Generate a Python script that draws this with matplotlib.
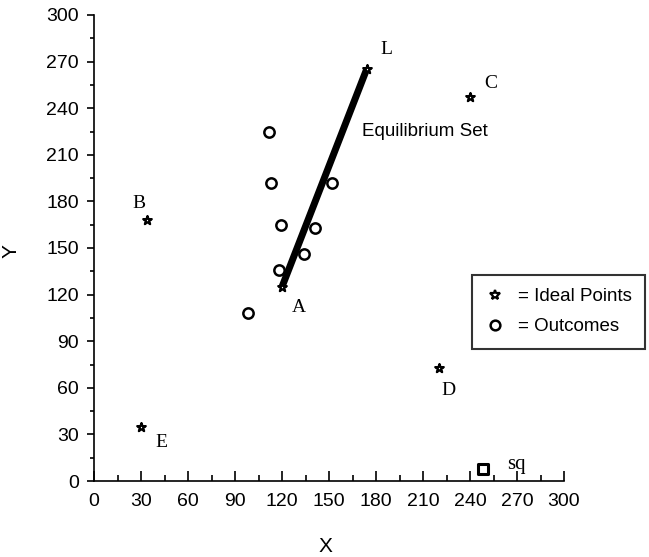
import matplotlib
matplotlib.use("Agg")
import matplotlib.pyplot as plt
from matplotlib.lines import Line2D

# Ideal points
ideal_names = ["A", "B", "C", "D", "E", "L"]
ideal_x = [120, 34, 240, 220, 30, 174]
ideal_y = [125, 168, 247, 73, 35, 265]

# Outcomes
out_x = [112, 113, 119.5, 141, 134, 118, 98, 152]
out_y = [225, 192, 165, 163, 146, 136, 108, 192]

# Status quo
sq_x = [248]
sq_y = [8]

# Equilibrium set endpoints (A to L)
eq_x = [120, 174]
eq_y = [125, 265]

ticks = list(range(0, 301, 30))

W, H = 649, 557
fig = plt.figure(figsize=(W / 100, H / 100), dpi=100)
ax = fig.add_axes([94 / W, 1 - 481 / H, (564 - 94) / W, (481 - 15) / H])

sans = "Liberation Sans"
serif = "Liberation Serif"

ax.plot(eq_x, eq_y, color="black", lw=5, solid_capstyle="butt", zorder=2)
ax.scatter(out_x, out_y, s=55, facecolors="white", edgecolors="black", linewidths=1.8, zorder=3)
ax.scatter(ideal_x, ideal_y, marker="*", s=42, facecolors="white", edgecolors="black", linewidths=1.6, zorder=4)
ax.scatter(sq_x, sq_y, marker="s", s=55, facecolors="white", edgecolors="black", linewidths=2.2, zorder=4)

label_off = {"A": (12, -15), "B": (-6, 12), "C": (15, 10), "D": (7, -16.5), "E": (14.4, -11.5), "L": (14.4, 14.4)}
for n, x, y in zip(ideal_names, ideal_x, ideal_y):
    dx, dy = label_off[n]
    ax.annotate(n, (x, y), xytext=(dx, dy), textcoords="offset points", fontsize=14,
                family=serif, ha="center", va="center")
ax.annotate("sq", (sq_x[0], sq_y[0]), xytext=(24.5, 3), textcoords="offset points", fontsize=15,
            family=serif, ha="center", va="center")
ax.text(171, 224.7, "Equilibrium Set", fontsize=13.5, family=sans, ha="left", va="center")

ax.set_xlim(0, 300)
ax.set_ylim(0, 300)
ax.set_xticks(ticks)
ax.set_yticks(ticks)
ax.set_xticks(list(range(15, 300, 30)), minor=True)
ax.set_yticks(list(range(15, 300, 30)), minor=True)
for lab in ax.get_xticklabels() + ax.get_yticklabels():
    lab.set_family(sans)
    lab.set_fontsize(14)
ax.tick_params(axis="x", which="major", direction="in", length=7, width=1.2, pad=9)
ax.tick_params(axis="x", which="minor", direction="in", length=4, width=1.2)
ax.tick_params(axis="y", which="major", direction="out", length=5, width=1.2, pad=6)
ax.tick_params(axis="y", which="minor", direction="out", length=3, width=1.2)
for s in ["top", "right"]:
    ax.spines[s].set_visible(False)
for s in ["left", "bottom"]:
    ax.spines[s].set_linewidth(1.2)

ax.set_xlabel("X", fontsize=15, family=sans)
ax.set_ylabel("Y", fontsize=15, family=sans, rotation=90, ha="center", va="center",
              rotation_mode="default")
ax.xaxis.set_label_coords((325 - 94) / 470, (481 - 537) / 466)
ax.yaxis.set_label_coords((11 - 94) / 470, (481 - 251) / 466)

handles = [
    Line2D([], [], marker="*", ls="none", markersize=7, markerfacecolor="white",
           markeredgecolor="black", markeredgewidth=1.6),
    Line2D([], [], marker="o", ls="none", markersize=7, markerfacecolor="white",
           markeredgecolor="black", markeredgewidth=1.8),
]
leg = fig.legend(handles, ["= Ideal Points", "= Outcomes"], loc="upper left",
                 bbox_to_anchor=(472 / W, 1 - 275 / H), bbox_transform=fig.transFigure,
                 prop={"family": sans, "size": 13.5}, frameon=True, fancybox=False,
                 handlelength=1.0, handletextpad=0.75, borderpad=0.7, labelspacing=0.7,
                 borderaxespad=0)
leg.get_frame().set_edgecolor("black")
leg.get_frame().set_linewidth(1.5)

fig.savefig("out.png", dpi=100)
